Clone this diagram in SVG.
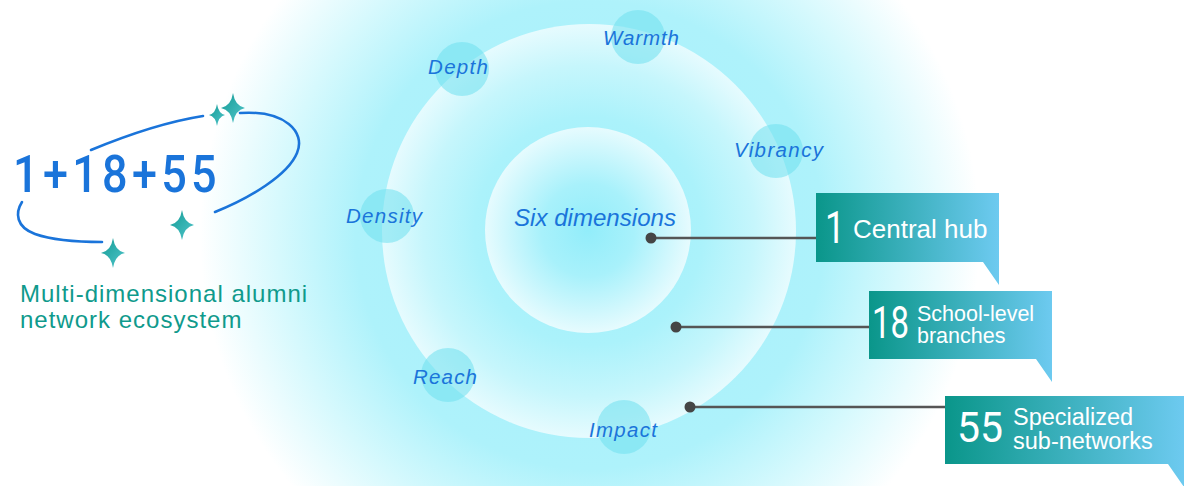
<svg xmlns="http://www.w3.org/2000/svg" width="1184" height="486" viewBox="0 0 1184 486">
  <defs>
    <radialGradient id="glow" cx="590" cy="235" r="390" gradientUnits="userSpaceOnUse">
      <stop offset="0" stop-color="#a4f0fb"/>
      <stop offset="0.6" stop-color="#aef2fb"/>
      <stop offset="0.8" stop-color="#d6f9fd"/>
      <stop offset="1" stop-color="#ffffff"/>
    </radialGradient>
    <radialGradient id="outerG" cx="0.5" cy="0.5" r="0.5">
      <stop offset="0" stop-color="#9ceefa"/>
      <stop offset="0.55" stop-color="#abf2fb"/>
      <stop offset="0.8" stop-color="#c6f6fc"/>
      <stop offset="1" stop-color="#e6fbfe"/>
    </radialGradient>
    <radialGradient id="innerG" cx="0.5" cy="0.5" r="0.5">
      <stop offset="0" stop-color="#92edfa"/>
      <stop offset="0.45" stop-color="#a8f1fb"/>
      <stop offset="1" stop-color="#e6fbfe"/>
    </radialGradient>
    <linearGradient id="boxG" x1="0" y1="0" x2="1" y2="0">
      <stop offset="0" stop-color="#0a968a"/>
      <stop offset="1" stop-color="#6dcaf0"/>
    </linearGradient>
    <linearGradient id="starG" x1="0" y1="0" x2="1" y2="1">
      <stop offset="0" stop-color="#139b94"/>
      <stop offset="1" stop-color="#52c6cc"/>
    </linearGradient>
    <style>
      .dimc { fill: #6fe0ee; fill-opacity: 0.55; }
      .dimt { font-family: "Liberation Sans", Arial, sans-serif; font-style: italic; font-size: 20.5px; fill: #1a74da; }
      .conn { stroke: #555; stroke-width: 2.5; fill: none; }
      .dot { fill: #454545; }
      .num { font-family: Roboto, "Liberation Sans", sans-serif; font-weight: 400; fill: #ffffff; }
      .lbl { font-family: "Liberation Sans", Arial, sans-serif; fill: #ffffff; }
      .star { fill: url(#starG); }
      .arc { fill: none; stroke: #1a74da; stroke-width: 2.6; stroke-linecap: round; }
    </style>
  </defs>

  <rect width="1184" height="486" fill="#ffffff"/>
  <circle cx="590" cy="235" r="390" fill="url(#glow)"/>

  <g id="rings">
    <circle cx="589" cy="231" r="207" fill="url(#outerG)"/>
    <circle cx="588" cy="230" r="103" fill="url(#innerG)"/>
  </g>

  <g id="center">
    <text x="514" y="226" font-family="Liberation Sans, Arial, sans-serif" font-style="italic" font-size="23" fill="#1a74da" textLength="162" lengthAdjust="spacingAndGlyphs">Six dimensions</text>
  </g>

  <g id="dim-warmth"><circle class="dimc" cx="638" cy="37" r="27"/><text class="dimt" x="603" y="45" textLength="76">Warmth</text></g>
  <g id="dim-depth"><circle class="dimc" cx="462" cy="69" r="27"/><text class="dimt" x="428" y="74" textLength="60">Depth</text></g>
  <g id="dim-vibrancy"><circle class="dimc" cx="776" cy="151" r="27"/><text class="dimt" x="734" y="157" textLength="89">Vibrancy</text></g>
  <g id="dim-density"><circle class="dimc" cx="387" cy="216" r="27"/><text class="dimt" x="346" y="223" textLength="76">Density</text></g>
  <g id="dim-reach"><circle class="dimc" cx="448" cy="375" r="27"/><text class="dimt" x="413" y="384" textLength="64">Reach</text></g>
  <g id="dim-impact"><circle class="dimc" cx="624" cy="427" r="27"/><text class="dimt" x="589" y="437" textLength="68">Impact</text></g>

  <g id="connectors">
    <line class="conn" x1="651" y1="238" x2="817" y2="238"/>
    <circle class="dot" cx="651" cy="238" r="5.5"/>
    <line class="conn" x1="676" y1="327" x2="870" y2="327"/>
    <circle class="dot" cx="676" cy="327" r="5.5"/>
    <line class="conn" x1="690" y1="407" x2="946" y2="407"/>
    <circle class="dot" cx="690" cy="407" r="5.5"/>
  </g>

  <g id="box-hub">
    <path d="M816,193 H999 V285 L983,262 H816 Z" fill="url(#boxG)"/>
    <text class="num" x="825" y="243" font-size="44" textLength="20" lengthAdjust="spacingAndGlyphs">1</text>
    <text class="lbl" x="853" y="238" font-size="26">Central hub</text>
  </g>

  <g id="box-branches">
    <path d="M869,291 H1052 V382 L1036,359 H869 Z" fill="url(#boxG)"/>
    <text class="num" x="872" y="338" font-size="45" font-weight="500" textLength="37" lengthAdjust="spacingAndGlyphs">18</text>
    <text class="lbl" x="917" y="321" font-size="21.5">School-level</text>
    <text class="lbl" x="917" y="343" font-size="21.5">branches</text>
  </g>

  <g id="box-subnetworks">
    <path d="M945,396 H1184 V487 L1168,464 H945 Z" fill="url(#boxG)"/>
    <text class="num" x="957" y="442" font-size="42" font-weight="500" textLength="46" lengthAdjust="spacingAndGlyphs">55</text>
    <text class="lbl" x="1013" y="425" font-size="23.5">Specialized</text>
    <text class="lbl" x="1013" y="449" font-size="23.5">sub-networks</text>
  </g>

  <g id="logo">
    <path class="arc" d="M91,150 C120,138 165,122 203,116"/>
    <path class="arc" d="M240,113 C285,110 306,132 297,153 C288,175 250,198 215,212"/>
    <path class="arc" d="M22,202 C15,213 16,227 35,234 C55,241 85,242 102,242"/>
    <text x="13" y="192" font-family="Roboto, Liberation Sans, sans-serif" font-weight="500" font-size="52" letter-spacing="5" textLength="208" lengthAdjust="spacingAndGlyphs" fill="#1a74da">1+18+55</text>
    <path class="star" transform="translate(233,108)" d="M0,-15 Q2,-2 12,0 Q2,2 0,15 Q-2,2 -12,0 Q-2,-2 0,-15 Z"/>
    <path class="star" transform="translate(217,115)" d="M0,-11 Q1.5,-1.5 8,0 Q1.5,1.5 0,11 Q-1.5,1.5 -8,0 Q-1.5,-1.5 0,-11 Z"/>
    <path class="star" transform="translate(182,225)" d="M0,-15 Q2,-2 12,0 Q2,2 0,15 Q-2,2 -12,0 Q-2,-2 0,-15 Z"/>
    <path class="star" transform="translate(113,253)" d="M0,-15 Q2,-2 12,0 Q2,2 0,15 Q-2,2 -12,0 Q-2,-2 0,-15 Z"/>
    <text x="20" y="302" font-family="Liberation Sans, Arial, sans-serif" font-size="24" letter-spacing="1" fill="#0f9a8c">Multi-dimensional alumni</text>
    <text x="20" y="328" font-family="Liberation Sans, Arial, sans-serif" font-size="24" letter-spacing="1" fill="#0f9a8c">network ecosystem</text>
  </g>
</svg>
